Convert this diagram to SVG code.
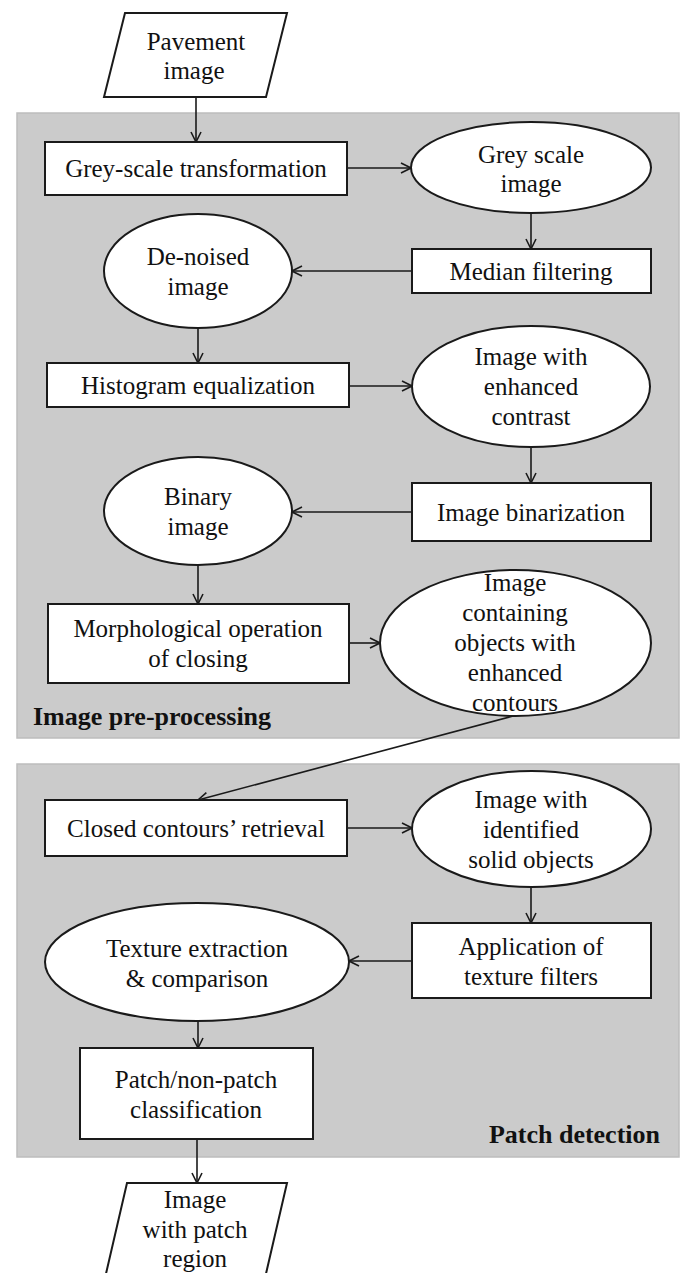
<svg xmlns="http://www.w3.org/2000/svg" width="681" height="1273" viewBox="0 0 681 1273">
<defs>
<style>
.panel{fill:#cbcbcb;stroke:#bdbdbd;stroke-width:1.5}
.node{fill:#ffffff;stroke:#1a1a1a;stroke-width:2}
.t{font-family:"Liberation Serif","Times New Roman",serif;font-size:25px;fill:#111;text-anchor:middle}
.title{font-family:"Liberation Serif","Times New Roman",serif;font-size:26px;font-weight:bold;fill:#111}
.c{fill:none;stroke:#1a1a1a;stroke-width:1.6}
</style>
<marker id="arr" viewBox="0 0 12 12" refX="11" refY="6" markerWidth="12" markerHeight="12" markerUnits="userSpaceOnUse" orient="auto">
<path d="M1,1 L11,6 L1,11" fill="none" stroke="#1a1a1a" stroke-width="1.6"/>
</marker>
</defs>
<rect width="681" height="1273" fill="#ffffff"/>
<g id="panel-preprocessing">
<rect class="panel" x="17" y="113" width="662" height="625"/>
<text class="title" x="33" y="725">Image pre-processing</text>
</g>
<g id="panel-patch">
<rect class="panel" x="17" y="764" width="662" height="393"/>
<text class="title" x="660" y="1143" text-anchor="end">Patch detection</text>
</g>
<g id="connectors">
<line class="c" x1="196" y1="97" x2="196" y2="142" marker-end="url(#arr)"/>
<line class="c" x1="347" y1="168" x2="411" y2="168" marker-end="url(#arr)"/>
<line class="c" x1="531" y1="213" x2="531" y2="249" marker-end="url(#arr)"/>
<line class="c" x1="412" y1="271" x2="292" y2="271" marker-end="url(#arr)"/>
<line class="c" x1="198" y1="328" x2="198" y2="363" marker-end="url(#arr)"/>
<line class="c" x1="349" y1="386" x2="412" y2="386" marker-end="url(#arr)"/>
<line class="c" x1="531" y1="447" x2="531" y2="483" marker-end="url(#arr)"/>
<line class="c" x1="412" y1="512" x2="292" y2="512" marker-end="url(#arr)"/>
<line class="c" x1="198" y1="565" x2="198" y2="604" marker-end="url(#arr)"/>
<line class="c" x1="349" y1="643" x2="380" y2="643" marker-end="url(#arr)"/>
<line class="c" x1="513" y1="716" x2="198" y2="800" marker-end="url(#arr)"/>
<line class="c" x1="347" y1="828" x2="412" y2="828" marker-end="url(#arr)"/>
<line class="c" x1="531" y1="887" x2="531" y2="923" marker-end="url(#arr)"/>
<line class="c" x1="412" y1="961" x2="349" y2="961" marker-end="url(#arr)"/>
<line class="c" x1="198" y1="1021" x2="198" y2="1048" marker-end="url(#arr)"/>
<line class="c" x1="197" y1="1139" x2="197" y2="1183" marker-end="url(#arr)"/>
</g>
<g id="pavement-image">
<polygon class="node" points="125,13 287,13 266,97 104,97"/>
<text class="t" x="196" y="50">Pavement</text>
<text class="t" x="194" y="79">image</text>
</g>
<g id="grey-scale-transformation">
<rect class="node" x="45" y="142" width="302" height="53"/>
<text class="t" x="196" y="177">Grey-scale transformation</text>
</g>
<g id="grey-scale-image">
<ellipse class="node" cx="531" cy="167.5" rx="120" ry="45.5"/>
<text class="t" x="531" y="163">Grey scale</text>
<text class="t" x="531" y="192">image</text>
</g>
<g id="median-filtering">
<rect class="node" x="412" y="249" width="239" height="44"/>
<text class="t" x="531" y="280">Median filtering</text>
</g>
<g id="de-noised-image">
<ellipse class="node" cx="198" cy="271" rx="94" ry="57"/>
<text class="t" x="198" y="265">De-noised</text>
<text class="t" x="198" y="295">image</text>
</g>
<g id="histogram-equalization">
<rect class="node" x="47" y="363" width="302" height="44"/>
<text class="t" x="198" y="394">Histogram equalization</text>
</g>
<g id="enhanced-contrast">
<ellipse class="node" cx="531" cy="386.5" rx="119" ry="60.5"/>
<text class="t" x="531" y="365">Image with</text>
<text class="t" x="531" y="395">enhanced</text>
<text class="t" x="531" y="425">contrast</text>
</g>
<g id="image-binarization">
<rect class="node" x="412" y="483" width="239" height="58"/>
<text class="t" x="531" y="521">Image binarization</text>
</g>
<g id="binary-image">
<ellipse class="node" cx="198" cy="511" rx="94" ry="54"/>
<text class="t" x="198" y="505">Binary</text>
<text class="t" x="198" y="535">image</text>
</g>
<g id="morphological-closing">
<rect class="node" x="48" y="604" width="301" height="79"/>
<text class="t" x="198" y="637">Morphological operation</text>
<text class="t" x="198" y="667">of closing</text>
</g>
<g id="enhanced-contours">
<ellipse class="node" cx="515.5" cy="643" rx="135.5" ry="73"/>
<text class="t" x="515" y="591">Image</text>
<text class="t" x="515" y="621">containing</text>
<text class="t" x="515" y="651">objects with</text>
<text class="t" x="515" y="681">enhanced</text>
<text class="t" x="515" y="711">contours</text>
</g>
<g id="closed-contours-retrieval">
<rect class="node" x="45" y="800" width="302" height="56"/>
<text class="t" x="196" y="837">Closed contours’ retrieval</text>
</g>
<g id="identified-solid-objects">
<ellipse class="node" cx="531.5" cy="829" rx="119.5" ry="58"/>
<text class="t" x="531" y="808">Image with</text>
<text class="t" x="531" y="838">identified</text>
<text class="t" x="531" y="868">solid objects</text>
</g>
<g id="texture-filters">
<rect class="node" x="412" y="923" width="239" height="75"/>
<text class="t" x="531" y="955">Application of</text>
<text class="t" x="531" y="985">texture filters</text>
</g>
<g id="texture-extraction">
<ellipse class="node" cx="197" cy="962" rx="152" ry="59"/>
<text class="t" x="197" y="957">Texture extraction</text>
<text class="t" x="197" y="987">&amp; comparison</text>
</g>
<g id="patch-classification">
<rect class="node" x="80" y="1048" width="233" height="91"/>
<text class="t" x="196" y="1088">Patch/non-patch</text>
<text class="t" x="196" y="1118">classification</text>
</g>
<g id="patch-region-image">
<polygon class="node" points="127,1183 287,1183 265,1278 105,1278"/>
<text class="t" x="195" y="1208">Image</text>
<text class="t" x="195" y="1238">with patch</text>
<text class="t" x="195" y="1267">region</text>
</g>
</svg>
